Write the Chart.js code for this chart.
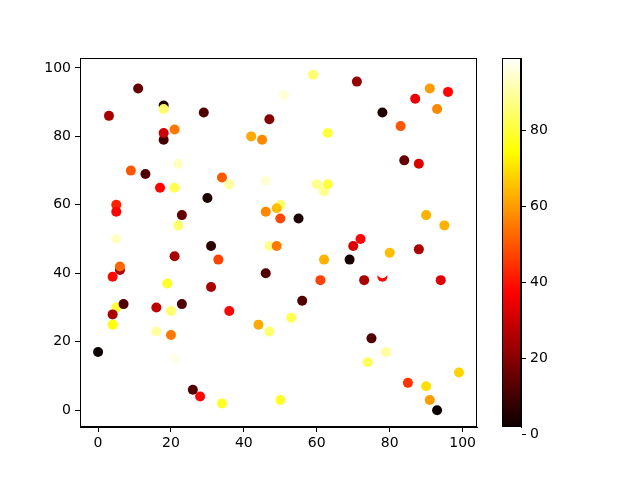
<!DOCTYPE html>
<html>
<head>
<meta charset="utf-8">
<script src="https://cdn.jsdelivr.net/npm/chart.js@4/dist/chart.umd.min.js"></script>
<style>
  body { margin: 0; background: #fff; }
  #wrap { position: relative; width: 640px; height: 480px; }
  #wrap canvas { position: absolute; left: 0; top: 0; }
</style>
</head>
<body>
<div id="wrap">
  <canvas id="scatterChart" width="640" height="480"></canvas>
  <canvas id="colorbar" width="640" height="480"></canvas>
</div>
<script>
// Point data (order matters where dots overlap)
const xs = [0, 3, 11, 18, 18, 18, 18, 21, 29, 42, 45, 47, 59, 71, 91, 96, 87, 93, 78, 83,
            63, 51, 84, 88, 22, 13, 9, 17, 21, 34, 36, 46, 30, 5, 5, 23, 22, 5, 21, 33,
            31, 6, 6, 4, 5, 7, 4, 4, 16, 19, 23, 20, 16, 20, 21, 36, 31, 26, 28, 34,
            44, 47, 53, 56, 50, 75, 79, 74, 85, 90, 91, 93, 99, 60, 62, 63, 50, 49, 50, 55,
            90, 95, 47, 72, 70, 80, 88, 62, 69, 61, 73, 78, 78, 94, 46, 49, 46];
const ys = [17, 86, 94, 89, 88, 79, 81, 82, 87, 80, 79, 85, 98, 96, 94, 93, 91, 88, 87, 83,
            81, 92, 73, 72, 72, 69, 70, 65, 65, 68, 66, 67, 62, 60, 58, 57, 54, 50, 45, 44,
            48, 41, 42, 39, 30, 31, 28, 25, 30, 37, 31, 29, 23, 22, 15, 29, 36, 6, 4, 2,
            25, 23, 27, 32, 3, 21, 17, 14, 8, 7, 3, 0, 11, 66, 64, 66, 60, 59, 56, 56,
            57, 54, 48, 50, 48, 46, 47, 44, 44, 38, 38, 39, 40, 38, 58, 48, 40];
const cs = [2, 25, 15, 5, 85, 10, 30, 55, 12, 62, 57, 20, 85, 22, 60, 38, 35, 57, 5, 50,
            80, 95, 15, 32, 93, 12, 50, 38, 82, 50, 90, 95, 5, 42, 38, 15, 85, 93, 25, 47,
            7, 25, 52, 38, 80, 12, 25, 75, 28, 78, 12, 85, 90, 55, 97, 38, 25, 12, 38, 78,
            62, 85, 82, 12, 78, 12, 90, 83, 45, 70, 60, 2, 68, 88, 88, 80, 85, 65, 48, 5,
            63, 63, 88, 38, 32, 65, 25, 63, 4, 47, 25, 38, 99, 33, 57, 55, 12];

const xTicks = [0, 20, 40, 60, 80, 100];
const yTicks = [0, 20, 40, 60, 80, 100];
const cbTicks = [0, 20, 40, 60, 80];

const cMin = Math.min(...cs);
const cMax = Math.max(...cs);

// matplotlib "hot" colormap
function hot(t) {
    t = Math.max(0, Math.min(1, t));
    const r = Math.min(1, 0.0416 + (1 - 0.0416) * t / 0.365079);
    const g = Math.max(0, Math.min(1, (t - 0.365079) / (0.746032 - 0.365079)));
    const b = Math.max(0, Math.min(1, (t - 0.746032) / (1 - 0.746032)));
    return `rgb(${Math.round(r * 255)}, ${Math.round(g * 255)}, ${Math.round(b * 255)})`;
}

const FONT = { family: "'DejaVu Sans', sans-serif", size: 14 };

// box round the plot area
const frame = {
    id: 'frame',
    afterDraw(chart) {
        const a = chart.chartArea;
        const c = chart.ctx;
        c.save();
        c.strokeStyle = '#000';
        c.lineWidth = 1;
        c.strokeRect(Math.round(a.left) + 0.5, Math.round(a.top) + 0.5,
                     Math.round(a.right - a.left) - 1, Math.round(a.bottom - a.top) - 1);
        c.restore();
    }
};

function fixTicks(values) {
    return scale => { scale.ticks = values.map(v => ({ value: v })); };
}

const points = xs.map((x, i) => ({ x: x, y: ys[i], c: cs[i] }));

new Chart(document.getElementById('scatterChart'), {
    type: 'scatter',
    data: {
        datasets: [{
            data: points,
            backgroundColor: ctx => hot((ctx.raw.c - cMin) / (cMax - cMin)),
            borderWidth: 0,
            pointRadius: 5,
            pointHoverRadius: 5
        }]
    },
    options: {
        responsive: false,
        animation: false,
        layout: { padding: { left: 0, top: 58, right: 163, bottom: 0 } },
        plugins: { legend: { display: false }, tooltip: { enabled: false } },
        scales: {
            x: {
                min: -4.95,
                max: 103.95,
                afterBuildTicks: fixTicks(xTicks),
                afterFit: s => { s.height = 53; },
                grid: { drawOnChartArea: false, drawTicks: true, tickLength: 5, tickColor: '#000' },
                border: { color: '#000' },
                ticks: { color: '#000', font: FONT, padding: 3, maxRotation: 0 }
            },
            y: {
                min: -4.9,
                max: 102.9,
                afterBuildTicks: fixTicks(yTicks),
                afterFit: s => { s.width = 80; },
                grid: { drawOnChartArea: false, drawTicks: true, tickLength: 5, tickColor: '#000' },
                border: { color: '#000' },
                ticks: { color: '#000', font: FONT, padding: 4 }
            }
        }
    },
    plugins: [frame]
});

// gradient strip for the colour bar
const cbFill = {
    id: 'cbFill',
    beforeDatasetsDraw(chart) {
        const a = chart.chartArea;
        const c = chart.ctx;
        const grad = c.createLinearGradient(0, a.bottom, 0, a.top);
        [0, 0.365079, 0.746032, 1].forEach(t => grad.addColorStop(t, hot(t)));
        c.save();
        c.fillStyle = grad;
        c.fillRect(a.left, a.top, a.right - a.left, a.bottom - a.top);
        c.restore();
    }
};

new Chart(document.getElementById('colorbar'), {
    type: 'scatter',
    data: { datasets: [{ data: [] }] },
    options: {
        responsive: false,
        animation: false,
        layout: { padding: { left: 502, top: 58, right: 0, bottom: 53 } },
        plugins: { legend: { display: false }, tooltip: { enabled: false } },
        scales: {
            x: { display: false, min: 0, max: 1 },
            y: {
                position: 'right',
                min: cMin,
                max: cMax,
                afterBuildTicks: fixTicks(cbTicks),
                afterFit: s => { s.width = 119; },
                grid: { drawOnChartArea: false, drawTicks: true, tickLength: 5, tickColor: '#000' },
                border: { color: '#000' },
                ticks: { color: '#000', font: FONT, padding: 4 }
            }
        }
    },
    plugins: [cbFill, frame]
});
</script>
</body>
</html>
